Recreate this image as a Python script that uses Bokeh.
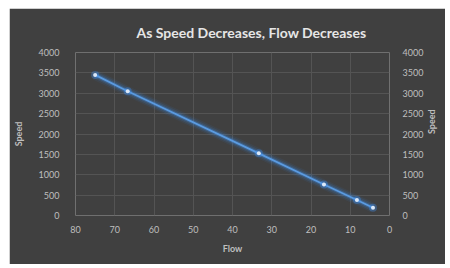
from bokeh.plotting import figure
from bokeh.models import LinearAxis, Range1d, FixedTicker, ColumnDataSource
from bokeh.embed import file_html
from bokeh.resources import INLINE

title_text = "As Speed Decreases, Flow Decreases"
flow = [75, 66.7, 33.3, 16.7, 8.3, 4.2]
speed = [3450, 3050, 1525, 760, 380, 190]
x_ticks = [0, 10, 20, 30, 40, 50, 60, 70, 80]
y_ticks = [0, 500, 1000, 1500, 2000, 2500, 3000, 3500, 4000]

src = ColumnDataSource(dict(x=flow, y=speed))

BG = "#404040"
TXT = "#bfbfbf"
GRID = "#545454"

p = figure(width=436, height=256, output_backend="svg", toolbar_location=None,
           x_range=Range1d(80, 0), y_range=Range1d(0, 4000),
           background_fill_color=BG, border_fill_color=BG,
           min_border_left=66, min_border_right=56, min_border_top=44, min_border_bottom=49,
           title=title_text)
p.margin = (8, 5, 4, 9)
p.outline_line_color = None

p.title.text_font = "Lato"
p.title.text_font_style = "bold"
p.title.text_font_size = "14px"
p.title.text_color = "#e6e6e6"
p.title.align = "left"
p.title.vertical_align = "middle"
p.title.offset = 61
p.title.standoff = 22

p.xgrid.ticker = FixedTicker(ticks=x_ticks)
p.ygrid.ticker = FixedTicker(ticks=y_ticks)
p.xgrid.grid_line_color = GRID
p.ygrid.grid_line_color = GRID

def style(ax, label):
    ax.axis_label = label
    ax.axis_label_text_font = "Lato"
    ax.axis_label_text_font_style = "bold"
    ax.axis_label_text_font_size = "9px"
    ax.axis_label_text_color = TXT
    ax.major_label_text_font = "Lato"
    ax.major_label_text_font_size = "9px"
    ax.major_label_text_color = TXT
    ax.axis_line_color = None
    ax.major_tick_line_color = None
    ax.minor_tick_line_color = None

p.xaxis.ticker = FixedTicker(ticks=x_ticks)
style(p.xaxis[0], "Flow")
p.xaxis.major_label_standoff = 4
p.xaxis.axis_label_standoff = 7

p.yaxis.ticker = FixedTicker(ticks=y_ticks)
style(p.yaxis[0], "Speed")
p.yaxis.major_label_standoff = 10
p.yaxis.axis_label_standoff = 12

ry = LinearAxis(ticker=FixedTicker(ticks=y_ticks))
style(ry, "Speed")
ry.major_label_standoff = 7
ry.axis_label_standoff = 5
ry.axis_label_orientation = 3.14159265 / 2
p.add_layout(ry, "right")

# glow
for w, a in [(10, 0.07), (7, 0.13), (4, 0.3)]:
    p.line("x", "y", source=src, line_color="#3f8ff0", line_width=w, line_alpha=a)
p.line("x", "y", source=src, line_color="#5b9be0", line_width=1.8)
p.scatter("x", "y", source=src, size=8, fill_color="#3f8ff0", fill_alpha=0.35, line_color=None)
p.scatter("x", "y", source=src, size=4, fill_color="#dbe8f8", line_color=None)

open("out.html", "w").write(file_html(p, INLINE))
